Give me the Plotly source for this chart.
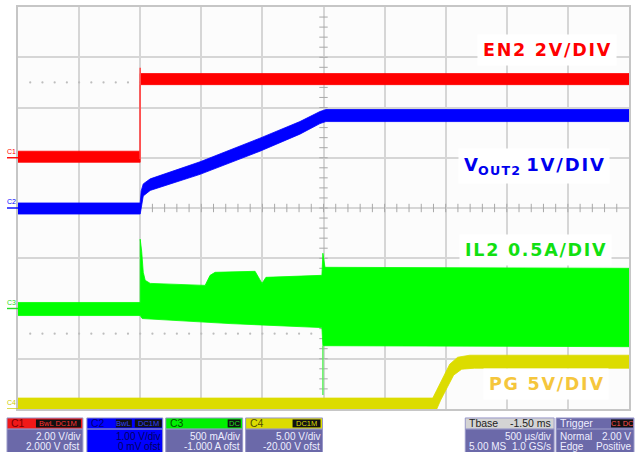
import plotly.graph_objects as go
import numpy as np

# ---------------- data (time in ms, trigger at t = 0) ----------------
# C1 EN2 (V) : upper / lower envelope of the noisy trace
en2_up_t = [-1.0, 0.0, 0.0, 4.0]
en2_up_v = [0.26, 0.26, 3.35, 3.35]
en2_lo_t = [-1.0, 0.0, 0.0, 4.0]
en2_lo_v = [-0.18, -0.18, 2.91, 2.91]
en2_edge_t = [0.0, 0.0]
en2_edge_v = [-0.05, 3.58]

# C2 VOUT2 (V)
vout_t = [-1.0, 0.0, 0.008, 0.025, 0.082, 0.245, 0.49, 0.98, 1.307, 1.471, 1.52, 4.0]
vout_up_v = [0.10, 0.10, 0.34, 0.48, 0.58, 0.72, 0.92, 1.39, 1.72, 1.92, 1.96, 1.96]
vout_lo_v = [-0.12, -0.12, 0.04, 0.24, 0.35, 0.47, 0.67, 1.13, 1.47, 1.68, 1.72, 1.72]

# C3 IL2 (A)
il_up_t = [-1.0, 0.0, 0.0, 0.012, 0.025, 0.041, 0.082, 0.531, 0.572, 0.613,
           0.940, 0.964, 0.997, 1.029, 1.487, 1.495, 1.512, 4.0]
il_up_v = [0.06, 0.06, 0.69, 0.57, 0.36, 0.28, 0.25, 0.23, 0.33, 0.36,
           0.37, 0.32, 0.25, 0.31, 0.33, 0.55, 0.41, 0.40]
il_lo_t = [-1.0, 0.0, 0.016, 0.735, 1.487, 1.495, 4.0]
il_lo_v = [-0.07, -0.07, -0.10, -0.15, -0.19, -0.37, -0.38]
il_spike_t = [1.495, 1.495]
il_spike_v = [-0.37, -0.86]

# C4 PG (V)
pg_up_t = [-1.0, 2.394, 2.427, 2.484, 2.533, 2.598, 2.696, 4.0]
pg_up_v = [1.09, 1.09, 1.88, 3.27, 4.46, 5.15, 5.35, 5.35]
pg_lo_t = [-1.0, 2.427, 2.459, 2.516, 2.565, 2.631, 2.737, 4.0]
pg_lo_v = [0.0, 0.0, 0.89, 2.28, 3.37, 3.96, 4.06, 4.06]

# scope settings
ch_scale = {"C1": 2.0, "C2": 1.0, "C3": 0.5, "C4": 5.0}     # units / div
ch_offset = {"C1": 2.0, "C2": 0.0, "C3": -1.0, "C4": -20.0}  # ofst
trigger_level = 2.00
time_per_div = 0.5   # ms
t_start = -1.0
n_xdiv, n_ydiv = 10, 8

RED, BLUE, GREEN, YEL = "#ff0000", "#0000ff", "#00ff00", "#dcdc00"

W, H = 636, 452
L, R, T, B = 18, 6, 5, 43
PW, PH = W - L - R, H - T - B


def px(x):
    return (x - L) / PW


def py(y):
    return (H - B - y) / PH


def ch_range(c):
    s, o = ch_scale[c], ch_offset[c]
    return [-n_ydiv / 2 * s - o, n_ydiv / 2 * s - o]


def poly(ut, uv, lt, lv):
    return list(ut) + list(lt)[::-1], list(uv) + list(lv)[::-1]


fig = go.Figure()

t_end = t_start + n_xdiv * time_per_div

# dotted reference rows and center-line ticks (on the division axis)
dot_t = np.arange(t_start + 0.1, t_end - 0.05, 0.1)
for lvl in (2.5, -2.5):
    fig.add_trace(go.Scatter(x=dot_t, y=[lvl] * len(dot_t), mode="markers",
                             marker=dict(size=2.2, color="#bdbdbd"),
                             yaxis="y", hoverinfo="skip", showlegend=False))
tick_t = np.arange(t_start + 0.1, t_end - 0.05, 0.1)
fig.add_trace(go.Scatter(x=tick_t, y=[0] * len(tick_t), mode="markers",
                         marker=dict(symbol="line-ns", size=6,
                                     line=dict(width=1, color="#a8a8a8")),
                         yaxis="y", hoverinfo="skip", showlegend=False))
tick_y = np.arange(-3.8, 3.85, 0.2)
fig.add_trace(go.Scatter(x=[t_start + 5 * time_per_div] * len(tick_y), y=tick_y,
                         mode="markers",
                         marker=dict(symbol="line-ew", size=6,
                                     line=dict(width=1, color="#a8a8a8")),
                         yaxis="y", hoverinfo="skip", showlegend=False))

# C4
x, y = poly(pg_up_t, pg_up_v, pg_lo_t, pg_lo_v)
fig.add_trace(go.Scatter(x=x, y=y, fill="toself", fillcolor=YEL, mode="lines",
                         line=dict(color=YEL, width=0.8), yaxis="y4",
                         hoverinfo="skip", showlegend=False))
# C3
x, y = poly(il_up_t, il_up_v, il_lo_t, il_lo_v)
fig.add_trace(go.Scatter(x=x, y=y, fill="toself", fillcolor=GREEN, mode="lines",
                         line=dict(color=GREEN, width=0.8), yaxis="y3",
                         hoverinfo="skip", showlegend=False))
fig.add_trace(go.Scatter(x=il_spike_t, y=il_spike_v, mode="lines",
                         line=dict(color="#60f060", width=1.5), yaxis="y3",
                         hoverinfo="skip", showlegend=False))
# C2
x, y = poly(vout_t, vout_up_v, vout_t, vout_lo_v)
fig.add_trace(go.Scatter(x=x, y=y, fill="toself", fillcolor=BLUE, mode="lines",
                         line=dict(color=BLUE, width=0.8), yaxis="y",
                         hoverinfo="skip", showlegend=False))
# C1
x, y = poly(en2_up_t, en2_up_v, en2_lo_t, en2_lo_v)
fig.add_trace(go.Scatter(x=x, y=y, fill="toself", fillcolor=RED, mode="lines",
                         line=dict(color=RED, width=0.8), yaxis="y2",
                         hoverinfo="skip", showlegend=False))
fig.add_trace(go.Scatter(x=en2_edge_t, y=en2_edge_v, mode="lines",
                         line=dict(color="#ff5050", width=1.6), yaxis="y2",
                         hoverinfo="skip", showlegend=False))

# trigger markers
fig.add_trace(go.Scatter(x=[0.0], y=[-4.08], mode="markers", yaxis="y",
                         marker=dict(symbol="triangle-up", size=8, color=RED),
                         cliponaxis=False, hoverinfo="skip", showlegend=False))
fig.add_trace(go.Scatter(x=[t_end + 0.03], y=[trigger_level], mode="markers", yaxis="y2",
                         marker=dict(symbol="triangle-left", size=7, color=RED),
                         cliponaxis=False, hoverinfo="skip", showlegend=False))

shapes = []
annotations = []

# center lines
shapes.append(dict(type="line", xref="x", yref="y", x0=t_start, x1=t_end, y0=0, y1=0,
                   line=dict(color="#b4b4b4", width=1), layer="below"))
shapes.append(dict(type="line", xref="x", yref="y", x0=t_start + 5 * time_per_div,
                   x1=t_start + 5 * time_per_div, y0=-4, y1=4,
                   line=dict(color="#b4b4b4", width=1), layer="below"))

# channel ground markers on the left
for c, col, ax in (("C1", RED, "y2"), ("C2", BLUE, "y"), ("C3", "#22dd22", "y3"), ("C4", "#cccc00", "y4")):
    shapes.append(dict(type="line", xref="paper", yref=ax, x0=px(7), x1=px(18), y0=0, y1=0,
                       line=dict(color=col, width=1.4)))
    annotations.append(dict(x=px(11), y=0, xref="paper", yref=ax, text=c, showarrow=False,
                            xanchor="center", yanchor="bottom", yshift=1,
                            font=dict(family="Liberation Sans", size=7, color=col)))


def sp(s):
    return "\u200a".join(s)


lab_font = "DejaVu Sans"
annotations += [
    dict(x=px(548), y=py(48), text="<b>" + sp("EN2 2V/DIV") + "</b>", font=dict(family=lab_font, size=17.5, color=RED)),
    dict(x=px(535), y=py(165), text="<b>V<sub>" + sp("OUT2") + "</sub> " + sp("1V/DIV") + "</b>",
         font=dict(family=lab_font, size=18, color="#0000ee")),
    dict(x=px(536), y=py(249), text="<b>" + sp("IL2 0.5A/DIV") + "</b>", font=dict(family=lab_font, size=17.5, color="#11e011")),
    dict(x=px(547), y=py(384), text="<b>" + sp("PG 5V/DIV") + "</b>", font=dict(family=lab_font, size=17.5, color="#f5c63c")),
]
for a in annotations[-4:]:
    a.update(xref="paper", yref="paper", showarrow=False, xanchor="center", yanchor="middle",
             bgcolor="white", borderpad=5)

# ---------------- status bar ----------------
SLATE = "#6b69a9"
EDGE = "#9897c8"
info_font = "Liberation Sans"


def box(x0, x1, head_col, body_col):
    shapes.append(dict(type="rect", xref="paper", yref="paper", x0=px(x0), x1=px(x1),
                       y0=py(453), y1=py(429), fillcolor=body_col, line=dict(color=EDGE, width=1)))
    shapes.append(dict(type="rect", xref="paper", yref="paper", x0=px(x0), x1=px(x1),
                       y0=py(429), y1=py(418), fillcolor=head_col, line=dict(color=EDGE, width=1)))


def blk(x0, x1, txt, col):
    shapes.append(dict(type="rect", xref="paper", yref="paper", x0=px(x0), x1=px(x1),
                       y0=py(427.5), y1=py(419.5), fillcolor="#111111", line=dict(width=0)))
    annotations.append(dict(x=px((x0 + x1) / 2), y=py(423.5), xref="paper", yref="paper", text=txt,
                            showarrow=False, xanchor="center", yanchor="middle",
                            font=dict(family=info_font, size=7.5, color=col)))


def txt(x, y, s, col, anchor="right", size=10):
    annotations.append(dict(x=px(x), y=py(y), xref="paper", yref="paper", text=s, showarrow=False,
                            xanchor=anchor, yanchor="middle",
                            font=dict(family=info_font, size=size, color=col)))


LT = "#eeeeff"
box(7, 83, "#f01818", SLATE)
txt(9, 423.5, "C1", "#7a0000", "left", 10.5)
blk(36, 81, "BwL DC1M", "#ff3030")
txt(82, 437, "2.00 V/div", LT)
txt(82, 447, "2.000 V ofst", LT)

box(87, 163, "#0000ff", "#0000ff")
txt(89, 423.5, "C2", "#000070", "left", 10.5)
blk(116, 132, "BwL", "#3040ff")
blk(135, 162, "DC1M", "#3040ff")
txt(162, 437, "1.00 V/div", "#000060")
txt(162, 447, "0 mV ofst", "#000060")

box(166, 243, "#00f000", SLATE)
txt(168, 423.5, "C3", "#005000", "left", 10.5)
blk(228, 241, "DC", "#20e020")
txt(242, 437, "500 mA/div", LT)
txt(242, 447, "-1.000 A ofst", LT)

box(246, 323, "#dcdc00", SLATE)
txt(248, 423.5, "C4", "#505000", "left", 10.5)
blk(293, 321, "DC1M", "#dcdc00")
txt(322, 437, "5.00 V/div", LT)
txt(322, 447, "-20.00 V ofst", LT)

box(466, 555, "#d4d4d4", SLATE)
txt(468, 423.5, "Tbase", "#222222", "left", 10.5)
txt(554, 423.5, "-1.50 ms", "#222222", "right", 10.5)
txt(554, 437, "500 µs/div", LT)
txt(468, 447, "5.00 MS", LT, "left")
txt(554, 447, "1.0 GS/s", LT)

box(557, 635, SLATE, SLATE)
txt(559, 423.5, "Trigger", LT, "left", 10.5)
blk(612, 634, "C1 DC", "#ff5050")
txt(559, 437, "Normal", LT, "left")
txt(634, 437, "2.00 V", LT)
txt(559, 447, "Edge", LT, "left")
txt(634, 447, "Positive", LT)

grid = "#d6d6d6"
fig.update_layout(
    width=W, height=H, margin=dict(l=L, r=R, t=T, b=B),
    paper_bgcolor="white", plot_bgcolor="#fcfcfc",
    xaxis=dict(range=[t_start, t_end], dtick=time_per_div, tick0=0, showgrid=True,
               gridcolor=grid, gridwidth=1.5, showticklabels=False, zeroline=False,
               showline=True, mirror=True, linecolor="#c6c6c6", linewidth=2, ticks=""),
    yaxis=dict(range=[-n_ydiv / 2, n_ydiv / 2], dtick=1, showgrid=True, gridcolor=grid,
               gridwidth=1.5, showticklabels=False, zeroline=False, showline=True,
               mirror=True, linecolor="#c6c6c6", linewidth=2, ticks=""),
    yaxis2=dict(range=ch_range("C1"), overlaying="y", visible=False),
    yaxis3=dict(range=ch_range("C3"), overlaying="y", visible=False),
    yaxis4=dict(range=ch_range("C4"), overlaying="y", visible=False),
    shapes=shapes, annotations=annotations, showlegend=False, hovermode=False,
)

fig.write_html("out.html", config={"displayModeBar": False},
               post_script="document.body.style.margin='0px';document.body.style.overflow='hidden';")
